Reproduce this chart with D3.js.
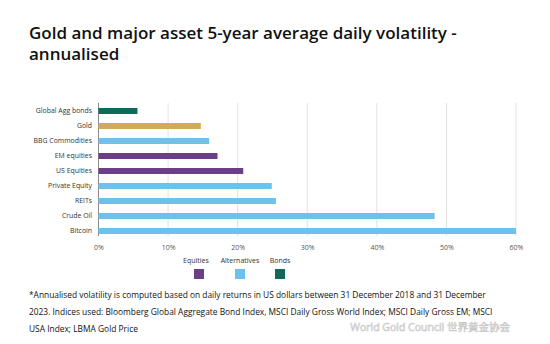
<!DOCTYPE html>
<html lang="en">
<head>
<meta charset="UTF-8">
<title>Gold volatility</title>
<script src="https://cdn.jsdelivr.net/npm/d3@7"></script>
<style>
    body { margin: 0; background: #fff; }
    svg { display: block; font-family: "Open Sans", "Noto Sans", sans-serif; }
</style>
</head>
<body>
<div id="chart"></div>
<script>
    const categories = ["Global Agg bonds", "Gold", "BBG Commodities", "EM equities", "US Equities",
        "Private Equity", "REITs", "Crude Oil", "Bitcoin"];
    const volatility = [5.6, 14.7, 15.9, 17.1, 20.8, 24.9, 25.5, 48.3, 60];
    const groups = ["Bonds", "Gold", "Alternatives", "Equities", "Equities",
        "Alternatives", "Alternatives", "Alternatives", "Alternatives"];
    const xTicks = [0, 10, 20, 30, 40, 50, 60];
    const legendItems = ["Equities", "Alternatives", "Bonds"];

    const colors = {
        Equities: "#6a3f86",
        Alternatives: "#6cc2ec",
        Bonds: "#0f6a5a",
        Gold: "#d3aa58"
    };

    const width = 550, height = 344;
    const svg = d3.select("#chart").append("svg")
        .attr("width", width)
        .attr("height", height);

    // title
    const title = svg.append("text")
        .attr("x", 29)
        .attr("y", 39)
        .attr("font-size", 17)
        .attr("font-weight", 600)
        .attr("fill", "#111");
    title.append("tspan").attr("x", 29).text("Gold and major asset 5-year average daily volatility -");
    title.append("tspan").attr("x", 29).attr("dy", 21).text("annualised");

    const x = d3.scaleLinear().domain([0, 60]).range([98.5, 516]);
    const y = d3.scaleBand().domain(categories).range([103.5, 238.5]).paddingInner(0.6).paddingOuter(0.3);

    // gridlines
    svg.append("g")
        .selectAll("line")
        .data(xTicks)
        .enter().append("line")
        .attr("x1", d => x(d)).attr("x2", d => x(d))
        .attr("y1", 103).attr("y2", 236)
        .attr("stroke", d => d === 0 ? "#8a8a8a" : "#e2e2e2")
        .attr("stroke-width", 1);

    // bars
    svg.append("g")
        .selectAll("rect")
        .data(categories)
        .enter().append("rect")
        .attr("x", x(0))
        .attr("y", d => y(d))
        .attr("width", (d, i) => x(volatility[i]) - x(0))
        .attr("height", y.bandwidth())
        .attr("fill", (d, i) => colors[groups[i]]);

    // category labels
    svg.append("g")
        .selectAll("text")
        .data(categories)
        .enter().append("text")
        .attr("x", 92)
        .attr("y", d => y(d) + y.bandwidth() / 2)
        .attr("dy", "0.35em")
        .attr("text-anchor", "end")
        .attr("font-size", 6.9)
        .attr("fill", "#333")
        .text(d => d);

    // x axis labels
    const xAxis = d3.axisBottom(x).tickValues(xTicks).tickFormat(d => d + "%").tickSize(0);
    const gx = svg.append("g").attr("transform", "translate(0,242)").call(xAxis);
    gx.select(".domain").remove();
    gx.selectAll("text").attr("font-size", 7).attr("fill", "#555").attr("font-family", "Open Sans, sans-serif");

    // legend
    const legendX = [196, 240, 280];
    const lg = svg.append("g");
    lg.selectAll("text")
        .data(legendItems)
        .enter().append("text")
        .attr("x", (d, i) => legendX[i])
        .attr("y", 263)
        .attr("text-anchor", "middle")
        .attr("font-size", 7)
        .attr("fill", "#333")
        .text(d => d);
    lg.selectAll("rect")
        .data(legendItems)
        .enter().append("rect")
        .attr("x", (d, i) => legendX[i] - 5 + (i === 0 ? 3 : 0))
        .attr("y", 269)
        .attr("width", 10)
        .attr("height", 10)
        .attr("fill", d => colors[d]);

    // footnote
    const notes = [
        "*Annualised volatility is computed based on daily returns in US dollars between 31 December 2018 and 31 December",
        "2023. Indices used: Bloomberg Global Aggregate Bond Index, MSCI Daily Gross World Index; MSCI Daily Gross EM; MSCI",
        "USA Index; LBMA Gold Price"
    ];
    svg.append("g")
        .selectAll("text")
        .data(notes)
        .enter().append("text")
        .attr("x", 29)
        .attr("y", (d, i) => 298 + i * 17)
        .attr("font-size", 8.4)
        .attr("fill", "#111")
        .text(d => d);

    // watermark
    svg.append("text")
        .attr("x", 510)
        .attr("y", 331)
        .attr("text-anchor", "end")
        .attr("font-size", 10.5)
        .attr("fill", "#fafafa")
        .attr("stroke", "#c8c8c8")
        .attr("stroke-width", 0.6)
        .attr("font-family", "Open Sans, 'Noto Sans CJK SC', sans-serif")
        .text("World Gold Council 世界黄金协会");
</script>
</body>
</html>
